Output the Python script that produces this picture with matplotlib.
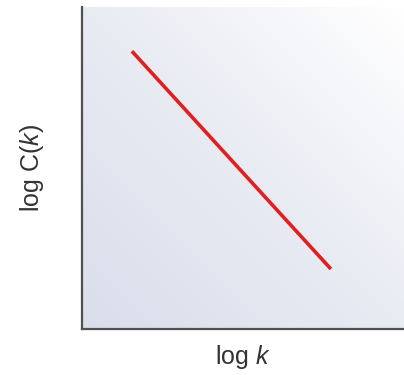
import numpy as np
import matplotlib
matplotlib.use("Agg")
import matplotlib.pyplot as plt
from matplotlib.colors import LinearSegmentedColormap

# power-law decay of clustering coefficient, schematic
log_k = [0.155, 0.773]
log_C = [0.863, 0.186]

plt.rcParams['font.family'] = ['Liberation Sans', 'DejaVu Sans']
plt.rcParams['mathtext.fontset'] = 'custom'
plt.rcParams['mathtext.rm'] = 'Liberation Sans'
plt.rcParams['mathtext.it'] = 'Liberation Sans:italic'

fig = plt.figure(figsize=(4.04, 3.75), dpi=100)
ax = fig.add_axes([0.203, 0.123, 0.797, 0.858])

# background gradient: bluish grey at bottom-left fading to white top-right
cmap = LinearSegmentedColormap.from_list('bg', ['#dadeeb', '#e9ebf3', '#ffffff'])
gx, gy = np.meshgrid(np.linspace(0, 1, 200), np.linspace(0, 1, 200))
grad = (gx + gy) / 2
ax.imshow(grad, cmap=cmap, extent=[0, 1, 0, 1], origin='lower',
          aspect='auto', zorder=0, vmin=0.0, vmax=1.0)

ax.plot(log_k, log_C, color='#e02020', lw=2.6, solid_capstyle='butt', zorder=2)

ax.set_xlim(0, 1)
ax.set_ylim(0, 1)
ax.set_xticks([])
ax.set_yticks([])
for side in ['top', 'right']:
    ax.spines[side].set_visible(False)
for side in ['left', 'bottom']:
    ax.spines[side].set_color('#505050')
    ax.spines[side].set_linewidth(1.6)

ax.set_xlabel('log $k$', fontsize=18, color='#333333', labelpad=10)
ax.set_ylabel('log C($k$)', fontsize=18, color='#333333', labelpad=26)

fig.savefig('out.png', dpi=100)
